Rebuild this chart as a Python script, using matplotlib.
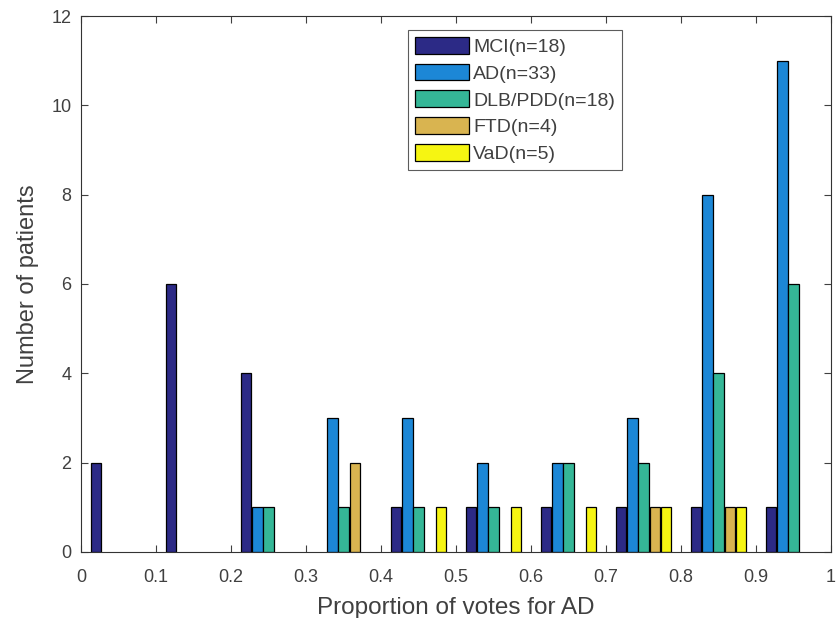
import numpy as np
import matplotlib.pyplot as plt

plt.rcParams['font.family'] = ['Liberation Sans', 'DejaVu Sans']

# bin centres of the votes histogram
bin_centers = np.arange(0.05, 1.0, 0.1)

labels = ['MCI(n=18)', 'AD(n=33)', 'DLB/PDD(n=18)', 'FTD(n=4)', 'VaD(n=5)']
mci = [2, 6, 4, 0, 1, 1, 1, 1, 1, 1]
ad = [0, 0, 1, 3, 3, 2, 2, 3, 8, 11]
dlb = [0, 0, 1, 1, 1, 1, 2, 2, 4, 6]
ftd = [0, 0, 0, 2, 0, 0, 0, 1, 1, 0]
vad = [0, 0, 0, 0, 1, 1, 1, 1, 1, 0]
colors = ['#2c2a86', '#1c87d6', '#35b797', '#d9b450', '#f6f512']

series = [mci, ad, dlb, ftd, vad]
step = 0.015
width = 0.014
txt = '#404040'

fig = plt.figure(figsize=(8.38, 6.18), dpi=100)
ax = fig.add_axes([0.0967, 0.107, 0.895, 0.867])

for j, vals in enumerate(series):
    x = bin_centers + (j - 2) * step
    v = np.array(vals, dtype=float)
    m = v > 0
    ax.bar(x[m], v[m], width=width, color=colors[j], edgecolor='black',
           linewidth=0.9, label=labels[j])

ax.set_xlim(0, 1)
ax.set_ylim(0, 12)
ax.set_xticks(np.arange(0, 1.01, 0.1))
ax.set_xticklabels(['0', '0.1', '0.2', '0.3', '0.4', '0.5', '0.6', '0.7', '0.8', '0.9', '1'])
ax.set_yticks(range(0, 13, 2))
ax.tick_params(direction='in', top=True, right=True, labelsize=13,
               colors=txt, length=5, width=0.8, pad=7)
ax.tick_params(axis='x', pad=12)
for s in ax.spines.values():
    s.set_color('#333333')
    s.set_linewidth(0.8)

ax.set_xlabel('Proportion of votes for AD', fontsize=17.5, color=txt, labelpad=8)
ax.set_ylabel('Number of patients', fontsize=17, color=txt, labelpad=9)

leg = ax.legend(loc='upper left', bbox_to_anchor=(0.436, 0.974), fontsize=14,
                frameon=True, fancybox=False, edgecolor='#333333',
                handlelength=2.8, handleheight=0.95, handletextpad=0.2,
                labelspacing=0.4, borderpad=0.35, borderaxespad=0)
leg.get_frame().set_linewidth(0.8)
for t in leg.get_texts():
    t.set_color(txt)

fig.savefig('out.png', dpi=100)
